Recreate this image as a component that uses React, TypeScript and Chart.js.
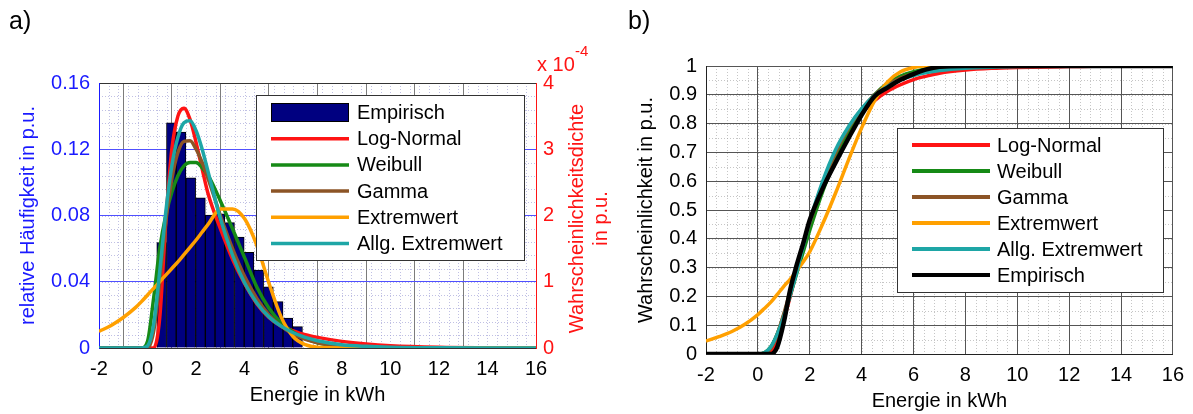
import React, { useEffect, useRef } from "react";
import { Chart, registerables } from "chart.js";

Chart.register(...registerables);

const FONT = '"Liberation Sans", Arial, Helvetica, sans-serif';
Chart.defaults.font.family = FONT;
Chart.defaults.font.size = 20;

// ---------- Panel a) : histogram + fitted densities ----------
const binCenters = [0.58, 0.98, 1.38, 1.78, 2.18, 2.58, 2.98, 3.38, 3.78, 4.18, 4.58, 4.98, 5.38, 5.78, 6.18];
const relFreq = [0.0636, 0.136, 0.1304, 0.1028, 0.0907, 0.0803, 0.081, 0.0757, 0.067, 0.0578, 0.047, 0.037, 0.028, 0.018, 0.0129];

const pdfX = [-2, -1.5, -1, -0.5, -0.25, 0, 0.25, 0.5, 0.75, 1, 1.25, 1.5, 1.75, 2, 2.25, 2.5, 3, 3.5, 4, 4.5, 5, 5.5, 6, 6.5, 7, 8, 9, 10, 12, 14, 16];
// densities in units of 1e-4
const pdfLogNormal = [0, 0, 0, 0, 0, 0, 0, 0.45, 1.9, 3.0, 3.5, 3.62, 3.45, 3.1, 2.7, 2.32, 1.8, 1.34, 0.97, 0.67, 0.46, 0.33, 0.26, 0.2, 0.16, 0.1, 0.06, 0.035, 0.012, 0.004, 0];
const pdfWeibull = [0, 0, 0, 0, 0, 0.1, 0.75, 1.5, 2.0, 2.35, 2.6, 2.75, 2.8, 2.8, 2.72, 2.6, 2.22, 1.8, 1.36, 0.92, 0.6, 0.38, 0.24, 0.14, 0.08, 0.02, 0.005, 0, 0, 0, 0];
const pdfGamma = [0, 0, 0, 0, 0, 0, 0.25, 1.0, 1.9, 2.55, 2.95, 3.12, 3.13, 3.0, 2.8, 2.55, 2.0, 1.5, 1.08, 0.75, 0.5, 0.33, 0.21, 0.13, 0.08, 0.03, 0.01, 0, 0, 0, 0];
const pdfExtrem = [0.25, 0.34, 0.46, 0.61, 0.7, 0.8, 0.9, 1.0, 1.1, 1.2, 1.3, 1.41, 1.52, 1.63, 1.75, 1.87, 2.1, 2.1, 1.95, 1.55, 0.98, 0.47, 0.17, 0.05, 0.01, 0, 0, 0, 0, 0, 0];
const pdfGEV = [0, 0, 0, 0, 0, 0.03, 0.35, 1.15, 2.05, 2.75, 3.18, 3.4, 3.43, 3.28, 3.0, 2.65, 1.95, 1.4, 0.98, 0.68, 0.47, 0.33, 0.23, 0.16, 0.11, 0.05, 0.025, 0.012, 0.003, 0, 0];

const xTicksA = [-2, 16, 2];
const yLeftTicks = [0, 0.16, 0.04];
const yRightTicks = [0, 4, 1];

// ---------- Panel b) : cumulative distributions ----------
const cdfX = [-2, -1.5, -1, -0.5, 0, 0.25, 0.5, 0.75, 1, 1.25, 1.5, 1.75, 2, 2.5, 3, 3.5, 4, 4.5, 5, 5.5, 6, 6.5, 7, 8, 9, 10, 12, 14, 16];
const cdfLogNormal = [0, 0, 0, 0, 0, 0, 0.005, 0.05, 0.12, 0.2, 0.29, 0.375, 0.45, 0.58, 0.685, 0.77, 0.835, 0.88, 0.912, 0.935, 0.953, 0.965, 0.975, 0.986, 0.992, 0.995, 0.998, 1, 1];
const cdfWeibull = [0, 0, 0, 0, 0, 0.004, 0.025, 0.07, 0.135, 0.205, 0.28, 0.355, 0.43, 0.565, 0.675, 0.77, 0.845, 0.9, 0.94, 0.965, 0.98, 0.99, 0.995, 1, 1, 1, 1, 1, 1];
const cdfGamma = [0, 0, 0, 0, 0, 0.003, 0.02, 0.07, 0.14, 0.22, 0.3, 0.38, 0.455, 0.59, 0.7, 0.785, 0.85, 0.9, 0.935, 0.958, 0.973, 0.983, 0.99, 0.996, 0.999, 1, 1, 1, 1];
const cdfExtrem = [0.045, 0.06, 0.078, 0.103, 0.137, 0.158, 0.18, 0.207, 0.235, 0.26, 0.29, 0.32, 0.355, 0.452, 0.56, 0.675, 0.785, 0.88, 0.945, 0.98, 0.995, 1, 1, 1, 1, 1, 1, 1, 1];
const cdfGEV = [0, 0, 0, 0, 0, 0.004, 0.025, 0.07, 0.13, 0.205, 0.285, 0.375, 0.46, 0.6, 0.71, 0.79, 0.852, 0.898, 0.93, 0.952, 0.967, 0.977, 0.984, 0.992, 0.996, 0.998, 1, 1, 1];
const cdfEmp = [0, 0, 0, 0, 0, 0, 0, 0.025, 0.11, 0.225, 0.31, 0.385, 0.465, 0.575, 0.665, 0.75, 0.83, 0.895, 0.925, 0.952, 0.972, 0.988, 0.997, 1, 1, 1, 1, 1, 1];

const xTicksB = [-2, 16, 2];
const yTicksB = [0, 1, 0.1];

const COL = {
  navy: "#000080",
  red: "#ff1414",
  green: "#168a16",
  brown: "#8c5426",
  orange: "#ffa000",
  teal: "#1ea6a6",
  black: "#000000",
  blue: "#1a1aff",
};

const pts = (xs: number[], ys: number[]) => xs.map((x, i) => ({ x, y: ys[i] }));
const fmt = (v: any) => String(Math.round(Number(v) * 1000) / 1000);

function lineDs(label: string, xs: number[], ys: number[], color: string, order: number, width: number, yAxisID = "y") {
  return {
    type: "line",
    label,
    data: pts(xs, ys),
    borderColor: color,
    backgroundColor: color,
    borderWidth: width,
    pointRadius: 0,
    fill: false,
    cubicInterpolationMode: "monotone",
    order,
    yAxisID,
  };
}

function vText(ctx: CanvasRenderingContext2D, text: string, x: number, y: number, color: string, size = 20) {
  ctx.save();
  ctx.translate(x, y);
  ctx.rotate(-Math.PI / 2);
  ctx.textAlign = "center";
  ctx.textBaseline = "middle";
  ctx.fillStyle = color;
  ctx.font = `${size}px ${FONT}`;
  ctx.fillText(text, 0, 0);
  ctx.restore();
}

function hText(ctx: CanvasRenderingContext2D, text: string, x: number, y: number, color: string, size = 20, align: CanvasTextAlign = "center", baseline: CanvasTextBaseline = "middle") {
  ctx.save();
  ctx.textAlign = align;
  ctx.textBaseline = baseline;
  ctx.fillStyle = color;
  ctx.font = `${size}px ${FONT}`;
  ctx.fillText(text, x, y);
  ctx.restore();
}

function minorGridPlugin(xStep: number, yStep: number, yId: string, color: string) {
  return {
    id: "minorGrid",
    beforeDraw(chart: any) {
      const { ctx, chartArea: a, scales } = chart;
      const xs = scales.x;
      const ys = scales[yId];
      ctx.save();
      ctx.lineWidth = 1;
      ctx.setLineDash([1, 2]);
      ctx.strokeStyle = color;
      const nX = Math.round((xs.max - xs.min) / xStep);
      for (let i = 1; i < nX; i++) {
        const px = Math.round(xs.getPixelForValue(xs.min + i * xStep)) + 0.5;
        ctx.beginPath();
        ctx.moveTo(px, a.top);
        ctx.lineTo(px, a.bottom);
        ctx.stroke();
      }
      const nY = Math.round((ys.max - ys.min) / yStep);
      for (let i = 1; i < nY; i++) {
        const py = Math.round(ys.getPixelForValue(ys.min + i * yStep)) + 0.5;
        ctx.beginPath();
        ctx.moveTo(a.left, py);
        ctx.lineTo(a.right, py);
        ctx.stroke();
      }
      ctx.restore();
    },
  };
}

function drawLegend(chart: any, box: { x: number; y: number; w: number; h: number }, row0: number, rowStep: number, sx0: number, sx1: number, tx: number, lineW: number) {
  const ctx = chart.ctx;
  ctx.save();
  ctx.fillStyle = "#ffffff";
  ctx.fillRect(box.x, box.y, box.w, box.h);
  ctx.strokeStyle = "#333333";
  ctx.lineWidth = 1;
  ctx.strokeRect(box.x + 0.5, box.y + 0.5, box.w, box.h);
  chart.data.datasets.forEach((ds: any, i: number) => {
    const y = row0 + i * rowStep;
    if (ds.type === "bar") {
      ctx.fillStyle = ds.backgroundColor;
      ctx.fillRect(sx0, y - 9.5, sx1 - sx0, 19);
      ctx.strokeStyle = "#000";
      ctx.lineWidth = 1;
      ctx.strokeRect(sx0 + 0.5, y - 9.5 + 0.5, sx1 - sx0 - 1, 18);
    } else {
      ctx.strokeStyle = ds.borderColor;
      ctx.lineWidth = lineW;
      ctx.beginPath();
      ctx.moveTo(sx0, y);
      ctx.lineTo(sx1, y);
      ctx.stroke();
    }
    hText(ctx, ds.label, tx, y + 1, "#000", 20, "left", "middle");
  });
  ctx.restore();
}

const near = (a: number, b: number) => Math.abs(a - b) < 1e-9;
const tickVal = (c: any) => (c && c.tick ? c.tick.value : NaN);

export default function App() {
  const refA = useRef<HTMLCanvasElement>(null);
  const refB = useRef<HTMLCanvasElement>(null);

  useEffect(() => {
    const decorA = {
      id: "decorA",
      afterDraw(chart: any) {
        const ctx = chart.ctx;
        const a = chart.chartArea;
        const cy = (a.top + a.bottom) / 2;
        const cx = (a.left + a.right) / 2;
        hText(ctx, "a)", 9, 22, "#000", 25, "left", "middle");
        vText(ctx, "relative Häufigkeit in p.u.", 28, cy, COL.blue);
        vText(ctx, "Wahrscheinlichkeitsdichte", 577, cy + 3, COL.red);
        vText(ctx, "in p.u.", 601, cy + 3, COL.red);
        hText(ctx, "x 10", 537, 65, COL.red, 20, "left", "middle");
        hText(ctx, "-4", 575, 52, COL.red, 15, "left", "middle");
        hText(ctx, "Energie in kWh", cx, 395, "#000");
        drawLegend(chart, { x: 256, y: 95, w: 268, h: 165 }, 112.5, 26.2, 271, 349, 357, 3.5);
      },
    };

    const chartA = new Chart(refA.current as HTMLCanvasElement, {
      type: "bar",
      data: {
        datasets: [
          {
            type: "bar",
            label: "Empirisch",
            data: pts(binCenters, relFreq),
            backgroundColor: COL.navy,
            borderColor: "#000000",
            borderWidth: 1,
            barPercentage: 1,
            categoryPercentage: 1,
            order: 10,
            yAxisID: "y",
          },
          lineDs("Log-Normal", pdfX, pdfLogNormal, COL.red, 5, 3.5, "y1"),
          lineDs("Weibull", pdfX, pdfWeibull, COL.green, 4, 3.5, "y1"),
          lineDs("Gamma", pdfX, pdfGamma, COL.brown, 3, 3.5, "y1"),
          lineDs("Extremwert", pdfX, pdfExtrem, COL.orange, 2, 3.5, "y1"),
          lineDs("Allg. Extremwert", pdfX, pdfGEV, COL.teal, 1, 3.5, "y1"),
        ] as any,
      },
      options: {
        responsive: false,
        animation: false,
        layout: { padding: { top: 83, left: 0, right: 0, bottom: 0 } },
        plugins: { legend: { display: false }, tooltip: { enabled: false } },
        scales: {
          x: {
            type: "linear",
            min: xTicksA[0],
            max: xTicksA[1],
            offset: false,
            afterFit: (s: any) => { s.height = 66; },
            ticks: { stepSize: xTicksA[2], color: "#000", padding: 9, maxRotation: 0, autoSkip: false, callback: fmt },
            grid: {
              drawTicks: false,
              color: (c: any) => {
                const v = tickVal(c);
                return near(v, xTicksA[0]) || near(v, xTicksA[1]) ? "rgba(0,0,0,0)" : "#7c7c7c";
              },
            },
            border: { color: "#333" },
          },
          y: {
            type: "linear",
            position: "left",
            min: yLeftTicks[0],
            max: yLeftTicks[1],
            afterFit: (s: any) => { s.width = 99; },
            ticks: { stepSize: yLeftTicks[2], color: COL.blue, padding: 9, callback: fmt },
            grid: {
              drawTicks: false,
              color: (c: any) => {
                const v = tickVal(c);
                return near(v, yLeftTicks[1]) ? "#333" : near(v, 0) ? "rgba(0,0,0,0)" : "#5050ff";
              },
            },
            border: { color: COL.blue },
          },
          y1: {
            type: "linear",
            position: "right",
            min: yRightTicks[0],
            max: yRightTicks[1],
            afterFit: (s: any) => { s.width = 84; },
            ticks: { stepSize: yRightTicks[2], color: COL.red, padding: 7, callback: fmt },
            grid: { drawOnChartArea: false, drawTicks: false },
            border: { color: COL.red },
          },
        },
      } as any,
      plugins: [minorGridPlugin(0.4, 0.2, "y1", "rgba(150,150,210,0.6)"), decorA],
    });

    const decorB = {
      id: "decorB",
      afterDraw(chart: any) {
        const ctx = chart.ctx;
        const a = chart.chartArea;
        const cy = (a.top + a.bottom) / 2;
        const cx = (a.left + a.right) / 2;
        hText(ctx, "b)", 8, 22, "#000", 25, "left", "middle");
        vText(ctx, "Wahrscheinlichkeit in p.u.", 26, cy, "#000");
        hText(ctx, "Energie in kWh", cx, 401, "#000");
        drawLegend(chart, { x: 277, y: 128, w: 266, h: 164 }, 145, 26, 292, 370, 377, 4);
      },
    };

    const chartB = new Chart(refB.current as HTMLCanvasElement, {
      type: "line",
      data: {
        datasets: [
          lineDs("Log-Normal", cdfX, cdfLogNormal, COL.red, 6, 3.5),
          lineDs("Weibull", cdfX, cdfWeibull, COL.green, 5, 3.5),
          lineDs("Gamma", cdfX, cdfGamma, COL.brown, 4, 3.5),
          lineDs("Extremwert", cdfX, cdfExtrem, COL.orange, 3, 3.5),
          lineDs("Allg. Extremwert", cdfX, cdfGEV, COL.teal, 2, 3.5),
          lineDs("Empirisch", cdfX, cdfEmp, COL.black, 1, 4.5),
        ] as any,
      },
      options: {
        responsive: false,
        animation: false,
        layout: { padding: { top: 66, left: 0, right: 17, bottom: 0 } },
        plugins: { legend: { display: false }, tooltip: { enabled: false } },
        scales: {
          x: {
            type: "linear",
            min: xTicksB[0],
            max: xTicksB[1],
            afterFit: (s: any) => { s.height = 60; },
            ticks: { stepSize: xTicksB[2], color: "#000", padding: 9, maxRotation: 0, autoSkip: false, callback: fmt },
            grid: { drawTicks: false, color: "#555555" },
            border: { color: "#222" },
          },
          y: {
            type: "linear",
            min: yTicksB[0],
            max: yTicksB[1],
            afterFit: (s: any) => { s.width = 86; },
            ticks: { stepSize: yTicksB[2], color: "#000", padding: 9, callback: fmt },
            grid: { drawTicks: false, color: "#555555" },
            border: { color: "#222" },
          },
        },
      } as any,
      plugins: [minorGridPlugin(0.4, 0.05, "y", "rgba(160,160,160,0.6)"), decorB],
    });

    return () => {
      chartA.destroy();
      chartB.destroy();
    };
  }, []);

  return (
    <div style={{ position: "absolute", left: 0, top: 0, width: 1193, height: 414, background: "#fff" }}>
      <canvas ref={refA} width={620} height={414} style={{ position: "absolute", left: 0, top: 0, width: 620, height: 414 }} />
      <canvas ref={refB} width={573} height={414} style={{ position: "absolute", left: 620, top: 0, width: 573, height: 414 }} />
    </div>
  );
}
